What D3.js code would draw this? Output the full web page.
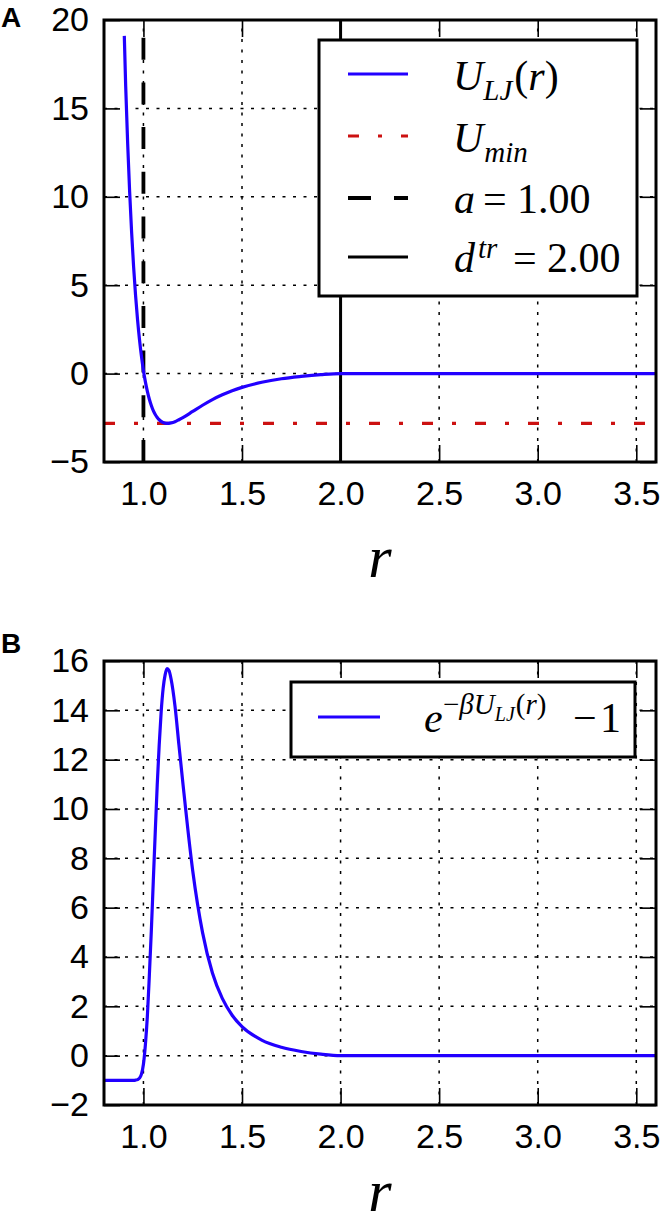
<!DOCTYPE html>
<html>
<head>
<meta charset="utf-8">
<script src="https://cdn.jsdelivr.net/npm/d3@7"></script>
<style>
  body { margin: 0; background: #fff; }
</style>
</head>
<body>
<svg id="chart" width="664" height="1225"></svg>
<script>
// panel A: Lennard-Jones potential
const rA = [0.903, 0.91, 0.92, 0.93, 0.94, 0.95, 0.96, 0.97, 0.98, 0.99, 1.00,
  1.01, 1.02, 1.03, 1.04, 1.05, 1.06, 1.07, 1.08, 1.09, 1.10, 1.12, 1.14, 1.16,
  1.18, 1.20, 1.25, 1.30, 1.35, 1.40, 1.45, 1.50, 1.60, 1.70, 1.80, 1.90, 2.00,
  2.50, 3.00, 3.60];
const uLJ = [19.1, 16.26, 13.03, 10.30, 8.01, 6.07, 4.44, 3.07, 1.93, 0.98, 0.18,
  -0.47, -1.01, -1.45, -1.80, -2.09, -2.31, -2.48, -2.61, -2.70, -2.77, -2.82, -2.79, -2.72,
  -2.61, -2.49, -2.14, -1.79, -1.47, -1.20, -0.97, -0.78, -0.49, -0.29, -0.16, -0.06, 0,
  0, 0, 0];

// panel B: Mayer function
const rB = [0.80, 0.90, 0.94, 0.95, 0.96, 0.97, 0.98, 0.99, 1.00, 1.01, 1.02, 1.03,
  1.04, 1.05, 1.06, 1.07, 1.08, 1.09, 1.10, 1.11, 1.12, 1.13, 1.14, 1.16, 1.18, 1.20,
  1.25, 1.30, 1.35, 1.40, 1.45, 1.50, 1.60, 1.70, 1.80, 1.90, 2.00, 2.50, 3.00, 3.60];
const mayerF = [-1, -1, -1, -1, -0.99, -0.97, -0.91, -0.75, -0.35, 0.45, 1.60, 3.25,
  5.05, 7.07, 9.07, 10.98, 12.60, 13.94, 14.89, 15.44, 15.69, 15.61, 15.28, 14.18, 12.60, 11.06,
  7.50, 4.99, 3.35, 2.32, 1.64, 1.18, 0.63, 0.34, 0.17, 0.06, 0, 0, 0, 0];

const uMin = -2.82;
const aSigma = 1.0;
const dTr = 2.0;

const xTicks = [1.0, 1.5, 2.0, 2.5, 3.0, 3.5];
const yTicksA = [-5, 0, 5, 10, 15, 20];
const yTicksB = [-2, 0, 2, 4, 6, 8, 10, 12, 14, 16];

const svg = d3.select("#chart");
const sans = "'Liberation Sans', Arial, sans-serif";
const serif = "'Liberation Serif', 'Times New Roman', serif";
const blue = "#2200ff";
const red = "#cc1111";

const x = d3.scaleLinear().domain([0.8, 3.6]).range([104, 656]);

function panel(id, yDomain, yRange, yTicks, label, labelY, xLabelY) {
  const y = d3.scaleLinear().domain(yDomain).range(yRange);
  const top = yRange[1], bottom = yRange[0], left = x.range()[0], right = x.range()[1];
  const g = svg.append("g");

  g.append("clipPath").attr("id", "clip" + id)
    .append("rect").attr("x", left).attr("y", top)
    .attr("width", right - left).attr("height", bottom - top);

  // dotted grid
  const grid = g.append("g")
    .attr("stroke", "#000").attr("stroke-width", 1.5).attr("stroke-dasharray", "3,7.5");
  grid.selectAll(".gx").data(xTicks).enter().append("line")
    .attr("x1", d => x(d)).attr("x2", d => x(d)).attr("y1", bottom).attr("y2", top);
  grid.selectAll(".gy").data(yTicks).enter().append("line")
    .attr("y1", d => y(d)).attr("y2", d => y(d)).attr("x1", left).attr("x2", right);

  // axes with inward ticks on all four sides
  const fmtY = d3.format("d");
  const axL = g.append("g").attr("transform", `translate(${left},0)`)
    .call(d3.axisLeft(y).tickValues(yTicks).tickFormat(fmtY).tickSize(-16).tickPadding(15));
  const axR = g.append("g").attr("transform", `translate(${right},0)`)
    .call(d3.axisRight(y).tickValues(yTicks).tickFormat("").tickSize(-16));
  const axB = g.append("g").attr("transform", `translate(0,${bottom})`)
    .call(d3.axisBottom(x).tickValues(xTicks).tickFormat(d3.format(".1f")).tickSize(-17).tickPadding(19));
  const axT = g.append("g").attr("transform", `translate(0,${top})`)
    .call(d3.axisTop(x).tickValues(xTicks).tickFormat("").tickSize(-17));
  [axL, axR, axB, axT].forEach(a => {
    a.select(".domain").remove();
    a.selectAll("line").attr("stroke", "#000").attr("stroke-width", 1.6);
    a.selectAll("text").attr("font-family", sans).attr("font-size", 34).attr("fill", "#000");
  });

  const plot = g.append("g").attr("clip-path", `url(#clip${id})`);

  g.append("text").attr("x", 380).attr("y", xLabelY)
    .attr("text-anchor", "middle").attr("font-family", serif)
    .attr("font-style", "italic").attr("font-size", 60).text("r");

  g.append("text").attr("x", 1).attr("y", labelY)
    .style("font-family", sans).style("font-weight", "bold").style("font-size", "28px")
    .text(label);

  return { g, y, plot, top, bottom, left, right };
}

// ---------- panel A ----------
const A = panel("A", [-5, 20], [462, 20], yTicksA, "A", 27, 577);

A.plot.append("line")
  .attr("x1", x(0.8)).attr("x2", x(3.6)).attr("y1", A.y(uMin)).attr("y2", A.y(uMin))
  .attr("stroke", red).attr("stroke-width", 3.2).attr("stroke-dasharray", "11,19,4,19");

A.plot.append("line")
  .attr("x1", x(aSigma)).attr("x2", x(aSigma)).attr("y1", A.bottom).attr("y2", A.top)
  .attr("stroke", "#000").attr("stroke-width", 3.8).attr("stroke-dasharray", "22,22.7");

A.plot.append("line")
  .attr("x1", x(dTr)).attr("x2", x(dTr)).attr("y1", A.bottom).attr("y2", A.top)
  .attr("stroke", "#000").attr("stroke-width", 3);

const lineA = d3.line().x((d, i) => x(rA[i])).y(d => A.y(d)).curve(d3.curveMonotoneX);
A.plot.append("path").datum(uLJ).attr("d", lineA)
  .attr("fill", "none").attr("stroke", blue).attr("stroke-width", 3.2);

A.g.append("rect").attr("x", A.left).attr("y", A.top)
  .attr("width", A.right - A.left).attr("height", A.bottom - A.top)
  .attr("fill", "none").attr("stroke", "#000").attr("stroke-width", 3);

// legend A
const legA = svg.append("g");
legA.append("rect").attr("x", 319).attr("y", 40).attr("width", 318).attr("height", 256)
  .attr("fill", "#fff").attr("stroke", "#000").attr("stroke-width", 3);
const rowsA = [
  { y: 74, stroke: blue, dash: null, w: 3.2 },
  { y: 136, stroke: red, dash: "11,19,4,19", w: 3.2 },
  { y: 198, stroke: "#000", dash: "23,23", w: 3.8 },
  { y: 257, stroke: "#000", dash: null, w: 3 }
];
legA.selectAll(".sample").data(rowsA).enter().append("line")
  .attr("x1", 348).attr("x2", 408).attr("y1", d => d.y).attr("y2", d => d.y)
  .attr("stroke", d => d.stroke).attr("stroke-width", d => d.w)
  .attr("stroke-dasharray", d => d.dash);

function mtext(g, xx, yy) {
  return g.append("text").attr("x", xx).attr("y", yy)
    .attr("font-family", serif).attr("font-size", 42).attr("fill", "#000");
}
let t = mtext(legA, 453, 90);
t.append("tspan").attr("font-style", "italic").text("U");
t.append("tspan").attr("font-style", "italic").attr("font-size", 29).attr("dy", 10).text("LJ");
t.append("tspan").attr("dy", -10).attr("dx", 2).text("(");
t.append("tspan").attr("font-style", "italic").text("r");
t.append("tspan").text(")");

t = mtext(legA, 453, 152);
t.append("tspan").attr("font-style", "italic").text("U");
t.append("tspan").attr("font-style", "italic").attr("font-size", 29).attr("dy", 10).attr("dx", 1).text("min");

t = mtext(legA, 454, 213);
t.append("tspan").attr("font-style", "italic").text("a");
t.append("tspan").attr("x", 483).text("=");
t.append("tspan").attr("x", 517).text("1.00");

t = mtext(legA, 454, 272);
t.append("tspan").attr("font-style", "italic").text("d");
t.append("tspan").attr("font-style", "italic").attr("font-size", 29).attr("dy", -14).attr("dx", 3).text("tr");
t.append("tspan").attr("x", 513).attr("dy", 14).text("=");
t.append("tspan").attr("x", 547).text("2.00");

// ---------- panel B ----------
const B = panel("B", [-2, 16], [1105, 661], yTicksB, "B", 653, 1211);

const lineB = d3.line().x((d, i) => x(rB[i])).y(d => B.y(d)).curve(d3.curveMonotoneX);
B.plot.append("path").datum(mayerF).attr("d", lineB)
  .attr("fill", "none").attr("stroke", blue).attr("stroke-width", 3.2);

B.g.append("rect").attr("x", B.left).attr("y", B.top)
  .attr("width", B.right - B.left).attr("height", B.bottom - B.top)
  .attr("fill", "none").attr("stroke", "#000").attr("stroke-width", 3);

const legB = svg.append("g");
legB.append("rect").attr("x", 291).attr("y", 682).attr("width", 344).attr("height", 75)
  .attr("fill", "#fff").attr("stroke", "#000").attr("stroke-width", 3);
legB.append("line").attr("x1", 318).attr("x2", 380).attr("y1", 717).attr("y2", 717)
  .attr("stroke", blue).attr("stroke-width", 3.2);

t = mtext(legB, 424, 732);
t.append("tspan").attr("font-style", "italic").text("e");
t.append("tspan").attr("font-size", 29).attr("x", 443).attr("dy", -18).text("\u2212");
t.append("tspan").attr("font-size", 29).attr("font-style", "italic").text("\u03B2");
t.append("tspan").attr("font-size", 29).attr("font-style", "italic").text("U");
t.append("tspan").attr("font-size", 20).attr("font-style", "italic").attr("dy", 7).text("LJ");
t.append("tspan").attr("font-size", 29).attr("dy", -7).attr("dx", 1).text("(");
t.append("tspan").attr("font-size", 29).attr("font-style", "italic").text("r");
t.append("tspan").attr("font-size", 29).text(")");
t.append("tspan").attr("x", 573).attr("dy", 18).text("\u2212");
t.append("tspan").attr("x", 600).text("1");
</script>
</body>
</html>
